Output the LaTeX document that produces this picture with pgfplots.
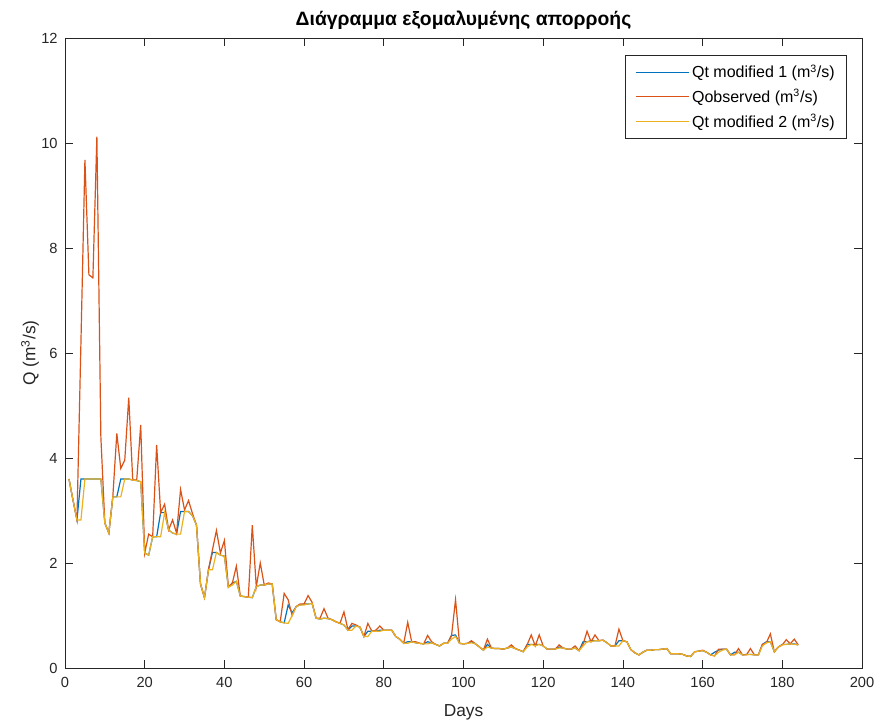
\documentclass[border=0pt]{standalone}
\usepackage{pgfplots}
\pgfplotsset{compat=1.18}
\usepackage{pgfplotstable}
\usepackage{fontspec}
\setmainfont{Liberation Sans}

\definecolor{mblue}{rgb}{0,0.447,0.741}
\definecolor{morange}{rgb}{0.85,0.325,0.098}
\definecolor{myellow}{rgb}{0.929,0.694,0.125}
\definecolor{mgray}{rgb}{0.15,0.15,0.15}

% day, Qobserved, Qt modified 2, Qt modified 1
\pgfplotstableread{
d R Y B
1 3.60 3.60 3.60
2 3.20 3.20 3.20
3 2.82 2.82 2.82
4 6.20 2.82 3.60
5 9.68 3.60 3.60
6 7.49 3.60 3.60
7 7.43 3.60 3.60
8 10.12 3.60 3.60
9 4.40 3.60 3.60
10 2.76 2.76 2.76
11 2.57 2.57 2.57
12 3.26 3.26 3.26
13 4.47 3.26 3.26
14 3.80 3.26 3.60
15 3.96 3.60 3.60
16 5.15 3.60 3.60
17 3.58 3.58 3.58
18 3.58 3.57 3.57
19 4.63 3.55 3.55
20 2.19 2.19 2.19
21 2.55 2.15 2.15
22 2.50 2.50 2.50
23 4.25 2.50 2.50
24 2.96 2.50 2.96
25 3.12 2.96 2.96
26 2.63 2.63 2.63
27 2.82 2.57 2.57
28 2.57 2.55 2.55
29 3.40 2.55 2.98
30 3.01 2.98 2.98
31 3.19 2.98 2.98
32 2.94 2.90 2.90
33 2.72 2.72 2.72
34 1.60 1.60 1.60
35 1.34 1.34 1.34
36 1.87 1.87 1.87
37 2.25 1.87 2.20
38 2.62 2.20 2.20
39 2.19 2.15 2.15
40 2.43 2.13 2.13
41 1.54 1.54 1.54
42 1.62 1.58 1.62
43 1.94 1.65 1.65
44 1.37 1.37 1.37
45 1.36 1.36 1.36
46 1.35 1.35 1.35
47 2.72 1.34 1.34
48 1.55 1.55 1.55
49 2.00 1.58 1.58
50 1.58 1.58 1.58
51 1.62 1.60 1.60
52 1.60 1.60 1.60
53 0.92 0.92 0.92
54 0.88 0.88 0.88
55 1.42 0.86 0.86
56 1.30 0.85 1.20
57 1.00 1.00 1.05
58 1.17 1.17 1.17
59 1.22 1.20 1.20
60 1.22 1.20 1.22
61 1.38 1.22 1.22
62 1.25 1.23 1.23
63 0.95 0.95 0.95
64 0.95 0.93 0.93
65 1.13 0.95 0.95
66 0.95 0.94 0.94
67 0.92 0.92 0.92
68 0.88 0.88 0.88
69 0.85 0.85 0.85
70 1.07 0.82 0.82
71 0.73 0.72 0.72
72 0.85 0.72 0.80
73 0.82 0.80 0.80
74 0.78 0.78 0.78
75 0.60 0.60 0.60
76 0.85 0.60 0.70
77 0.70 0.70 0.70
78 0.72 0.70 0.70
79 0.80 0.70 0.72
80 0.72 0.72 0.72
81 0.72 0.72 0.72
82 0.72 0.72 0.72
83 0.60 0.60 0.60
84 0.55 0.55 0.55
85 0.47 0.47 0.47
86 0.87 0.47 0.50
87 0.50 0.50 0.50
88 0.50 0.48 0.48
89 0.47 0.47 0.47
90 0.46 0.46 0.46
91 0.62 0.46 0.50
92 0.50 0.48 0.48
93 0.45 0.45 0.45
94 0.42 0.42 0.42
95 0.47 0.47 0.47
96 0.47 0.47 0.47
97 0.62 0.55 0.62
98 1.30 0.60 0.63
99 0.47 0.47 0.47
100 0.46 0.46 0.46
101 0.47 0.47 0.47
102 0.52 0.48 0.50
103 0.46 0.46 0.46
104 0.40 0.40 0.40
105 0.34 0.34 0.34
106 0.55 0.40 0.45
107 0.38 0.38 0.38
108 0.37 0.37 0.37
109 0.37 0.37 0.37
110 0.36 0.36 0.36
111 0.38 0.38 0.38
112 0.44 0.40 0.40
113 0.37 0.37 0.37
114 0.34 0.34 0.34
115 0.31 0.31 0.31
116 0.45 0.40 0.45
117 0.63 0.45 0.45
118 0.42 0.42 0.45
119 0.63 0.45 0.45
120 0.42 0.42 0.42
121 0.36 0.36 0.36
122 0.36 0.36 0.36
123 0.36 0.36 0.36
124 0.44 0.38 0.40
125 0.38 0.38 0.38
126 0.36 0.36 0.36
127 0.36 0.36 0.36
128 0.42 0.38 0.38
129 0.33 0.33 0.33
130 0.45 0.42 0.50
131 0.70 0.50 0.50
132 0.50 0.50 0.52
133 0.63 0.52 0.52
134 0.52 0.52 0.52
135 0.53 0.53 0.53
136 0.48 0.48 0.48
137 0.42 0.42 0.42
138 0.42 0.42 0.42
139 0.74 0.42 0.52
140 0.52 0.52 0.52
141 0.50 0.50 0.50
142 0.35 0.35 0.35
143 0.29 0.29 0.29
144 0.25 0.25 0.25
145 0.30 0.30 0.30
146 0.34 0.34 0.34
147 0.34 0.34 0.34
148 0.35 0.35 0.35
149 0.35 0.35 0.35
150 0.36 0.36 0.36
151 0.37 0.37 0.37
152 0.27 0.27 0.27
153 0.27 0.27 0.27
154 0.27 0.27 0.27
155 0.26 0.26 0.26
156 0.23 0.23 0.23
157 0.22 0.22 0.22
158 0.31 0.31 0.31
159 0.32 0.32 0.32
160 0.34 0.33 0.33
161 0.30 0.30 0.30
162 0.25 0.25 0.25
163 0.23 0.23 0.30
164 0.36 0.30 0.34
165 0.36 0.34 0.36
166 0.36 0.36 0.36
167 0.25 0.25 0.25
168 0.25 0.25 0.30
169 0.37 0.30 0.30
170 0.25 0.25 0.25
171 0.25 0.25 0.26
172 0.37 0.26 0.26
173 0.25 0.25 0.25
174 0.25 0.25 0.25
175 0.45 0.42 0.45
176 0.48 0.48 0.50
177 0.65 0.50 0.50
178 0.31 0.31 0.31
179 0.40 0.40 0.40
180 0.44 0.44 0.45
181 0.54 0.45 0.45
182 0.46 0.46 0.46
183 0.55 0.45 0.46
184 0.44 0.44 0.44
}\flow

\begin{document}
\begin{tikzpicture}
\begin{axis}[
    name=ax,
    scale only axis,
    width=597.75pt, height=472.5pt,
    xmin=0, xmax=200, ymin=0, ymax=12,
    xtick={0,20,...,200}, ytick={0,2,...,12},
    tick align=inside,
    xtick pos=both, ytick pos=both,
    major tick length=6pt,
    axis line style={mgray, line width=0.6pt},
    every tick/.style={mgray, line width=0.6pt},
    ticklabel style={font=\fontsize{11}{13}\selectfont, color=mgray},
    xticklabel style={yshift=-3.5pt},
    yticklabel style={xshift=-2pt},
    /pgf/number format/assume math mode=true,
    title={\textbf{Διάγραμμα εξομαλυμένης απορροής}},
    every axis title/.style={font=\fontsize{14.5}{17}\selectfont, at={(axis description cs:0.5,1.0286)}, anchor=center},
    xlabel={Days},
    every axis x label/.style={font=\fontsize{13}{15}\selectfont, color=mgray, at={(axis description cs:0.5,-0.0698)}, anchor=center},
    ylabel={Q (m\textsuperscript{3}/s)},
    every axis y label/.style={font=\fontsize{13}{15}\selectfont, color=mgray, at={(axis description cs:-0.0439,0.5)}, anchor=center, rotate=90},
    legend cell align=left,
    legend image code/.code={\draw[#1] (0pt,0pt) -- (40pt,0pt);},
    legend style={at={(rel axis cs:1,1)}, anchor=north east, xshift=-11.25pt, yshift=-12.75pt,
        draw=mgray, font=\fontsize{12}{14}\selectfont,
        inner xsep=7pt, inner ysep=5pt, row sep=3pt},
]
\addplot[mblue, line width=0.9pt] table[x=d, y=B] {\flow};
\addlegendentry{Qt modified 1 (m\textsuperscript{3}/s)}
\addplot[morange, line width=0.9pt] table[x=d, y=R] {\flow};
\addlegendentry{Qobserved (m\textsuperscript{3}/s)}
\addplot[myellow, line width=0.9pt] table[x=d, y=Y] {\flow};
\addlegendentry{Qt modified 2 (m\textsuperscript{3}/s)}
\end{axis}
\pgfresetboundingbox
\path ([shift={(-48.75pt,-40.5pt)}]ax.south west) rectangle ([shift={(13.5pt,28.5pt)}]ax.north east);
\end{tikzpicture}
\end{document}
